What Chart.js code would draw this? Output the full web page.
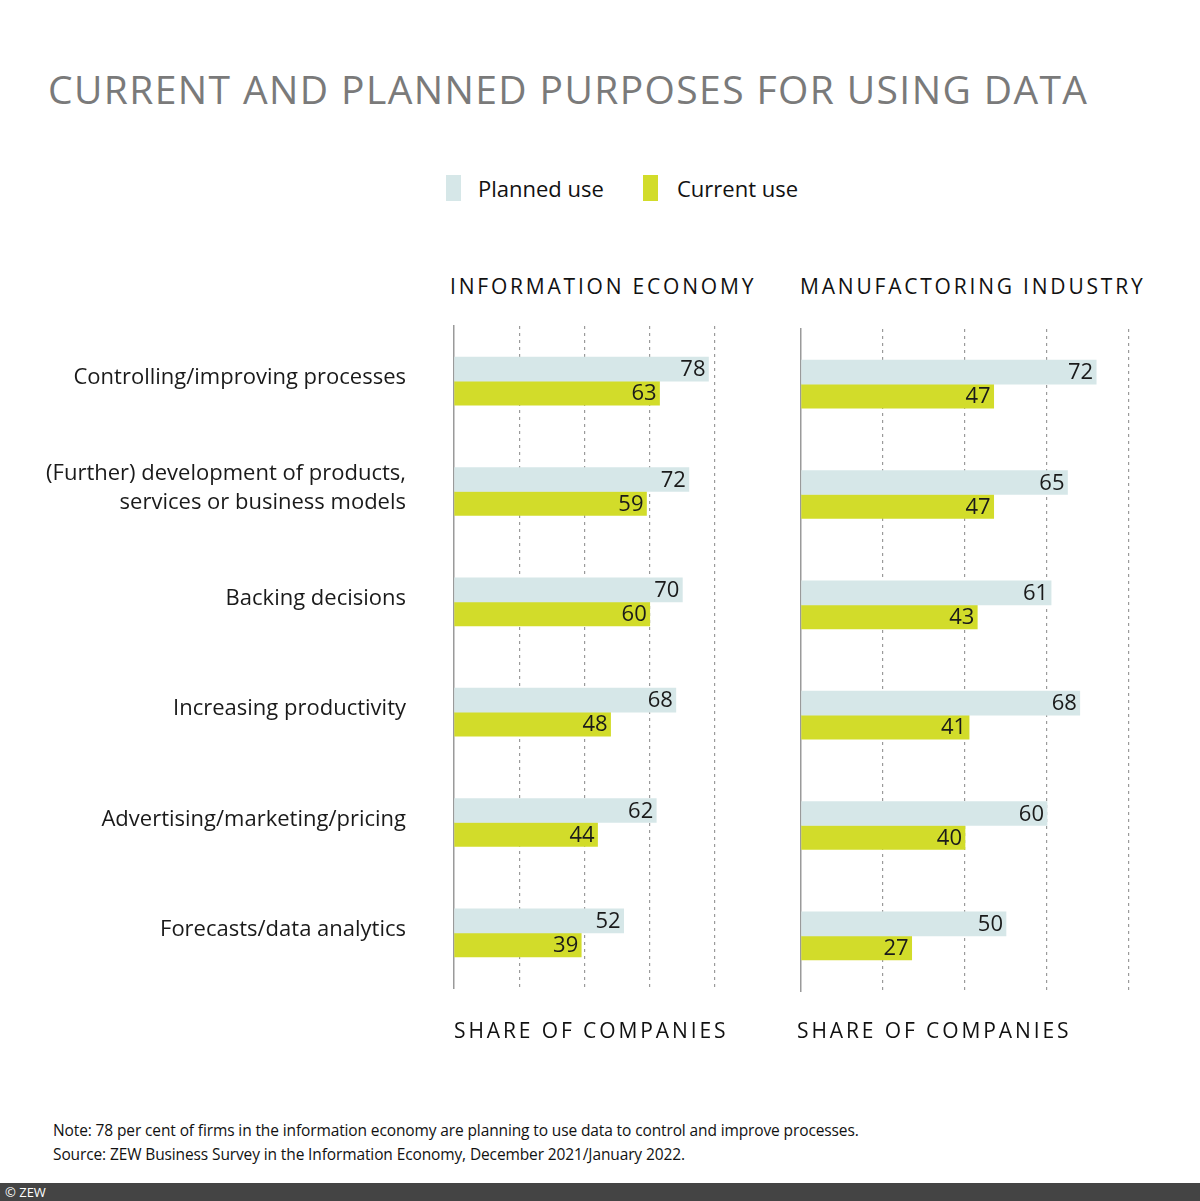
<!DOCTYPE html>
<html>
<head>
<meta charset="utf-8">
<script src="https://cdn.jsdelivr.net/npm/chart.js@4.4.1/dist/chart.umd.min.js"></script>
<style>
  body { margin: 0; width: 1200px; height: 1201px; position: relative; background: #fff; font-family: "Open Sans", sans-serif; overflow: hidden; }
  .abs { position: absolute; white-space: nowrap; }
  #title { left: 48px; top: 62px; font-size: 39px; letter-spacing: 1.4px; color: #7a7a7a; }
  .legbox { width: 15px; height: 26px; top: 175px; }
  .legtxt { top: 173px; font-size: 22px; color: #111; }
  .panel { top: 272px; font-size: 21px; letter-spacing: 2.8px; color: #111; }
  .axt { top: 1016px; font-size: 21px; letter-spacing: 2.9px; color: #111; }
  .note { left: 53px; font-size: 15.5px; letter-spacing: -0.12px; color: #111; }
  #foot { left: 0; top: 1183px; width: 1200px; height: 18px; background: #444; color: #fff; font-size: 13px; line-height: 18px; padding-left: 5px; box-sizing: border-box; }
  canvas { position: absolute; }
</style>
</head>
<body>
<div id="title" class="abs">CURRENT AND PLANNED PURPOSES FOR USING DATA</div>

<div class="abs legbox" style="left:446px;background:#d6e7e8"></div>
<div class="abs legtxt" style="left:478px">Planned use</div>
<div class="abs legbox" style="left:643px;background:#d2dc2a"></div>
<div class="abs legtxt" style="left:677px">Current use</div>

<div class="abs panel" style="left:450px">INFORMATION ECONOMY</div>
<div class="abs panel" style="left:800px">MANUFACTORING INDUSTRY</div>

<div style="position:absolute;left:0;top:300px;width:740px;height:720px"><canvas id="leftChart"></canvas></div>
<div style="position:absolute;left:780px;top:303px;width:400px;height:720px"><canvas id="rightChart"></canvas></div>

<div class="abs axt" style="left:454px">SHARE OF COMPANIES</div>
<div class="abs axt" style="left:797px">SHARE OF COMPANIES</div>

<div class="abs note" style="top:1119px">Note: 78 per cent of firms in the information economy are planning to use data to control and improve processes.</div>
<div class="abs note" style="top:1143px">Source: ZEW Business Survey in the Information Economy, December 2021/January 2022.</div>
<div id="foot" class="abs">© ZEW</div>

<script>
// categories (shared by both panels)
const categories = [
  'Controlling/improving processes',
  ['(Further) development of products,', 'services or business models'],
  'Backing decisions',
  'Increasing productivity',
  'Advertising/marketing/pricing',
  'Forecasts/data analytics'
];
const seriesNames = ['Planned use', 'Current use'];
const seriesColors = ['#d6e7e8', '#d2dc2a'];

// information economy
const infoPlanned = [78, 72, 70, 68, 62, 52];
const infoCurrent = [63, 59, 60, 48, 44, 39];

// manufacturing industry
const manuPlanned = [72, 65, 61, 68, 60, 50];
const manuCurrent = [47, 47, 43, 41, 40, 27];

const xTicks = [0, 20, 40, 60, 80];

// draws the number inside the end of each bar
const barLabels = {
  id: 'barLabels',
  afterDatasetsDraw(chart) {
    const ctx = chart.ctx;
    ctx.save();
    ctx.font = '22px "Open Sans", sans-serif';
    ctx.fillStyle = '#1a1a1a';
    ctx.textAlign = 'right';
    ctx.textBaseline = 'middle';
    chart.data.datasets.forEach(function (ds, i) {
      chart.getDatasetMeta(i).data.forEach(function (bar, j) {
        ctx.fillText(ds.data[j], bar.x - 3, bar.y + 1);
      });
    });
    ctx.restore();
  }
};

// category names drawn left of the y axis, at the category positions
const categoryLabels = {
  id: 'categoryLabels',
  afterDraw(chart, args, opts) {
    if (!opts.show) return;
    const ctx = chart.ctx;
    const y = chart.scales.y;
    ctx.save();
    ctx.font = '22px "Open Sans", sans-serif';
    ctx.fillStyle = '#1a1a1a';
    ctx.textAlign = 'right';
    ctx.textBaseline = 'middle';
    chart.data.labels.forEach(function (lab, i) {
      const lines = Array.isArray(lab) ? lab : [lab];
      const cy = y.getPixelForValue(i) - 3;
      lines.forEach(function (line, k) {
        ctx.fillText(line, y.right - 48, cy + (k - (lines.length - 1) / 2) * 29);
      });
    });
    ctx.restore();
  }
};

function makeChart(id, planned, current, showLabels, yWidth, padRight) {
  return new Chart(document.getElementById(id), {
    type: 'bar',
    data: {
      labels: categories,
      datasets: [
        { label: seriesNames[0], data: planned, backgroundColor: seriesColors[0], barThickness: 24 },
        { label: seriesNames[1], data: current, backgroundColor: seriesColors[1], barThickness: 24 }
      ]
    },
    options: {
      indexAxis: 'y',
      responsive: true,
      maintainAspectRatio: false,
      animation: false,
      layout: { padding: { top: 26, bottom: 32, right: padRight, left: 0 } },
      plugins: {
        legend: { display: false },
        tooltip: { enabled: false },
        categoryLabels: { show: showLabels }
      },
      scales: {
        x: {
          min: xTicks[0],
          max: xTicks[xTicks.length - 1],
          ticks: { display: false, stepSize: 20 },
          border: { display: false, dash: [3, 4] },
          grid: {
            drawTicks: false,
            color: function (c) { return c.tick && c.tick.value === 0 ? 'rgba(0,0,0,0)' : '#9a9a9a'; },
            lineWidth: 1.2
          },
          afterFit: function (s) { s.height = 0; }
        },
        y: {
          grid: { display: false, drawTicks: false },
          border: { display: true, color: '#9a9a9a', width: 1.5 },
          ticks: { display: false },
          afterFit: function (s) { s.width = yWidth; }
        }
      }
    },
    plugins: [barLabels, categoryLabels]
  });
}

makeChart('leftChart', infoPlanned, infoCurrent, true, 454, 25);
makeChart('rightChart', manuPlanned, manuCurrent, false, 21, 51);
</script>
</body>
</html>
